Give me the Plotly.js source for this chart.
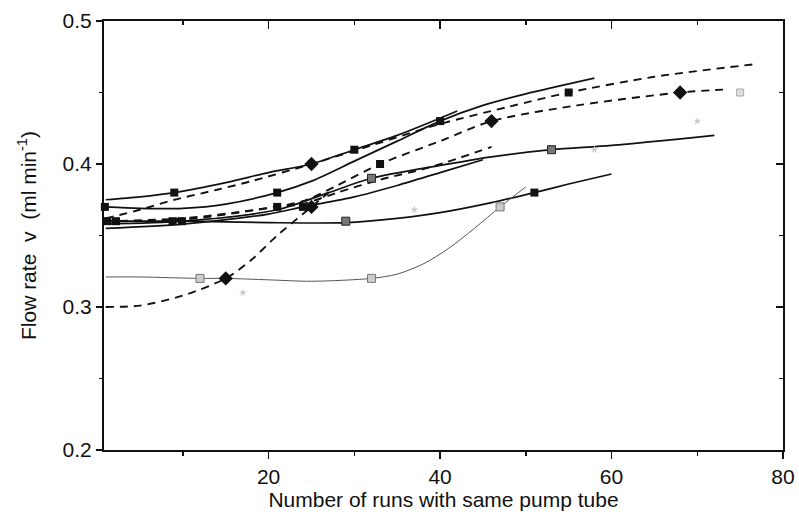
<!DOCTYPE html>
<html>
<head>
<meta charset="utf-8">
<script src="https://cdn.plot.ly/plotly-3.0.1.min.js"></script>
<style>html,body{margin:0;padding:0;background:#fff;}#chart{width:799px;height:515px;}</style>
</head>
<body>
<div id="chart"></div>
<script>
// Solid curves
const s1X = [1, 5, 9, 15, 20, 25, 30, 35, 40, 42];
const s1Y = [0.375, 0.377, 0.38, 0.387, 0.394, 0.40, 0.41, 0.42, 0.432, 0.437];
const s2X = [1, 5, 10, 15, 21, 25, 30, 35, 40, 45, 50, 58];
const s2Y = [0.37, 0.369, 0.369, 0.372, 0.38, 0.388, 0.402, 0.416, 0.43, 0.441, 0.449, 0.46];
const s3X = [1, 10, 21, 27, 32, 40, 46, 53, 60, 72];
const s3Y = [0.358, 0.36, 0.368, 0.38, 0.39, 0.399, 0.405, 0.41, 0.413, 0.42];
const s4X = [1, 10, 20, 24, 30, 35, 40, 45];
const s4Y = [0.355, 0.358, 0.365, 0.37, 0.377, 0.385, 0.394, 0.403];
const s5X = [1, 10, 20, 29, 35, 40, 46, 51, 55, 60];
const s5Y = [0.36, 0.36, 0.359, 0.359, 0.362, 0.366, 0.373, 0.38, 0.386, 0.393];
// Thin grey curve
const g1X = [1, 5, 12, 15, 20, 25, 32, 35, 38, 41, 44, 47, 50];
const g1Y = [0.321, 0.321, 0.32, 0.32, 0.319, 0.318, 0.32, 0.323, 0.33, 0.341, 0.355, 0.37, 0.384];
// Dashed curves
const d1X = [1, 5, 9, 14, 18, 25, 32, 40, 48, 55, 65, 77];
const d1Y = [0.362, 0.368, 0.375, 0.382, 0.388, 0.40, 0.413, 0.428, 0.44, 0.45, 0.461, 0.47];
const d2X = [1, 10, 16, 24, 28, 33, 40, 46, 56, 68, 73];
const d2Y = [0.36, 0.362, 0.366, 0.374, 0.385, 0.40, 0.416, 0.43, 0.441, 0.45, 0.452];
const d3X = [1, 5, 10, 15, 18, 21, 25, 27];
const d3Y = [0.30, 0.301, 0.308, 0.32, 0.333, 0.35, 0.37, 0.38];
const d4X = [1, 10, 21, 24, 28, 33, 39, 46];
const d4Y = [0.36, 0.361, 0.37, 0.372, 0.38, 0.389, 0.398, 0.412];
// Faint grey points
const fX = [17, 37, 58, 70, 75];
const fY = [0.31, 0.368, 0.41, 0.43, 0.45];
// Markers
const sqBlackX = [0.9, 1.2, 2.2, 9, 8.8, 9.9, 21, 21, 24, 30, 33, 40, 55, 51];
const sqBlackY = [0.37, 0.36, 0.36, 0.38, 0.36, 0.36, 0.38, 0.37, 0.37, 0.41, 0.40, 0.43, 0.45, 0.38];
const sqDarkX = [29, 32, 53];
const sqDarkY = [0.36, 0.39, 0.41];
const sqLightX = [12, 32, 47];
const sqLightY = [0.32, 0.32, 0.37];
const diaX = [15, 25, 25, 46, 68];
const diaY = [0.32, 0.40, 0.37, 0.43, 0.45];

const solid = (x, y) => ({x, y, mode: 'lines', type: 'scatter', line: {color: '#111', width: 1.7, shape: 'spline', smoothing: 0.8}, hoverinfo: 'skip'});
const dashed = (x, y) => ({x, y, mode: 'lines', type: 'scatter', line: {color: '#111', width: 1.9, dash: '8px,6px', shape: 'spline', smoothing: 0.8}, hoverinfo: 'skip'});

const traces = [
  solid(s1X, s1Y), solid(s2X, s2Y), solid(s3X, s3Y), solid(s4X, s4Y), solid(s5X, s5Y),
  {x: g1X, y: g1Y, mode: 'lines', type: 'scatter', line: {color: '#555', width: 1, shape: 'spline', smoothing: 0.8}},
  dashed(d1X, d1Y), dashed(d2X, d2Y), dashed(d3X, d3Y), dashed(d4X, d4Y),
  {x: fX, y: fY, mode: 'markers', type: 'scatter', marker: {symbol: 'star', size: 6, color: '#ccc'}},
  {x: sqBlackX, y: sqBlackY, mode: 'markers', type: 'scatter', cliponaxis: false, marker: {symbol: 'square', size: 8, color: '#111'}},
  {x: sqDarkX, y: sqDarkY, mode: 'markers', type: 'scatter', marker: {symbol: 'square', size: 8, color: '#777', line: {color: '#222', width: 1}}},
  {x: sqLightX, y: sqLightY, mode: 'markers', type: 'scatter', marker: {symbol: 'square', size: 8, color: '#ccc', line: {color: '#777', width: 1}}},
  {x: [75], y: [0.45], mode: 'markers', type: 'scatter', marker: {symbol: 'square', size: 7, color: '#ddd', line: {color: '#aaa', width: 1}}},
  {x: diaX, y: diaY, mode: 'markers', type: 'scatter', marker: {symbol: 'diamond', size: 11, color: '#111'}}
];

const fnt = {family: 'Liberation Sans, Arial, sans-serif', size: 21, color: '#111'};
const layout = {
  width: 799, height: 515,
  margin: {l: 104, r: 16, t: 21, b: 65},
  paper_bgcolor: '#fff', plot_bgcolor: '#fff',
  showlegend: false,
  font: fnt,
  xaxis: {
    range: [0.8, 80], showgrid: false, zeroline: false, showline: true, linecolor: '#111', linewidth: 2,
    ticks: 'outside', ticklen: 7, tickwidth: 1.5, tickcolor: '#111',
    tickvals: [20, 40, 60, 80], ticktext: ['20', '40', '60', '80'],
    minor: {tickvals: [10, 30, 50, 70], ticks: 'outside', ticklen: 4, tickcolor: '#111', tickwidth: 1.5},
    tickfont: fnt,
    title: {text: 'Number of runs with same pump tube', font: fnt, standoff: 4}
  },
  xaxis2: {
    range: [0.8, 80], overlaying: 'x', side: 'top', showgrid: false, zeroline: false, showline: true,
    linecolor: '#111', linewidth: 2, ticks: 'inside', ticklen: 8, tickwidth: 1.5, tickcolor: '#111',
    tickvals: [20, 40, 60, 80], showticklabels: false,
    minor: {tickvals: [10, 30, 50, 70], ticks: 'inside', ticklen: 4, tickcolor: '#111', tickwidth: 1.5}
  },
  yaxis: {
    range: [0.2, 0.5], showgrid: false, zeroline: false, showline: true, linecolor: '#111', linewidth: 2,
    ticks: 'outside', ticklen: 6, tickwidth: 1.5, tickcolor: '#111',
    tickvals: [0.2, 0.3, 0.4, 0.5], ticktext: ['0.2', '0.3', '0.4', '0.5'],
    minor: {tickvals: [0.25, 0.35, 0.45], ticks: 'outside', ticklen: 3, tickcolor: '#111', tickwidth: 1.5},
    tickfont: fnt,
    title: {text: 'Flow rate  v  (ml min<sup>-1</sup>)', font: fnt, standoff: 20}
  },
  yaxis2: {
    range: [0.2, 0.5], overlaying: 'y', side: 'right', showgrid: false, zeroline: false, showline: true,
    linecolor: '#111', linewidth: 2, ticks: 'inside', ticklen: 7, tickwidth: 1.5, tickcolor: '#111',
    tickvals: [0.2, 0.3, 0.4, 0.5], showticklabels: false,
    minor: {tickvals: [0.25, 0.35, 0.45], ticks: 'inside', ticklen: 4, tickcolor: '#111', tickwidth: 1.5}
  }
};
traces.push({x: [0.8], y: [0.2], xaxis: 'x2', yaxis: 'y2', mode: 'markers', marker: {opacity: 0}, hoverinfo: 'skip', type: 'scatter'});
Plotly.newPlot('chart', traces, layout, {displayModeBar: false, staticPlot: true});
</script>
</body>
</html>
